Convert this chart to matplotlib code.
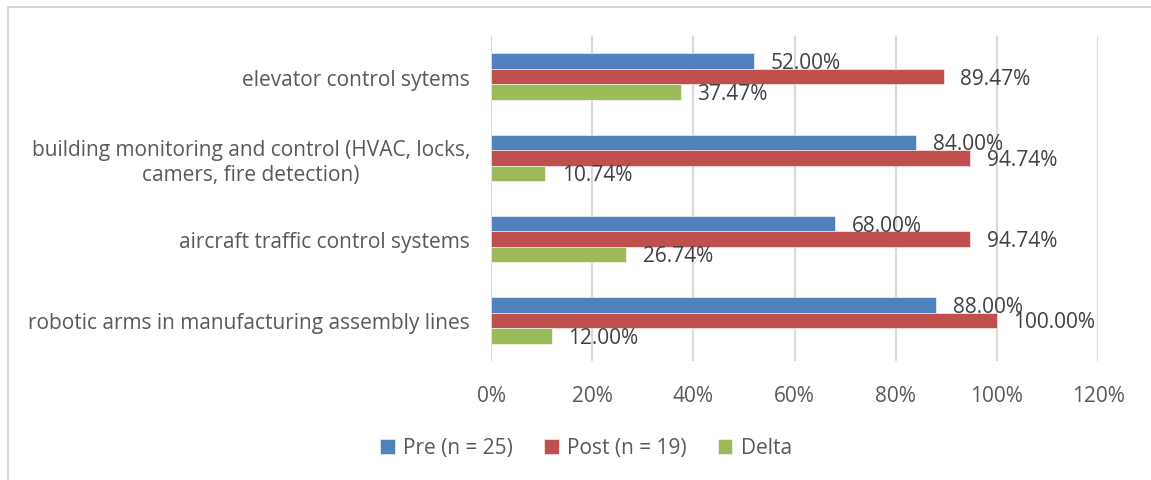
import numpy as np
import matplotlib
matplotlib.use('Agg')
import matplotlib.pyplot as plt
from matplotlib.patches import Rectangle

plt.rcParams['font.family'] = ['Open Sans', 'DejaVu Sans']

# ----------------- data -----------------
categories = ["robotic arms in manufacturing assembly lines",
              "aircraft traffic control systems",
              "building monitoring and control (HVAC, locks,\ncamers, fire detection)",
              "elevator control sytems"]
pre = [88.00, 68.00, 84.00, 52.00]
post = [100.00, 94.74, 94.74, 89.47]
delta = [12.00, 26.74, 10.74, 37.47]
series_names = ["Pre (n = 25)", "Post (n = 19)", "Delta"]
xticks = [0, 20, 40, 60, 80, 100, 120]

colors = ['#4F81BD', '#C0504D', '#9BBB59']
text_color = '#595959'
label_color = '#404040'
grid_color = '#D9D9D9'
fs = 15

fig = plt.figure(figsize=(11.51, 4.81), dpi=100)
# outer chart frame (only top and left edges fall inside the picture)
fig.patches.append(Rectangle((8 / 1151, -0.2), 1.2, 1.2 - 8 / 481, transform=fig.transFigure,
                             fill=False, edgecolor=grid_color, linewidth=1.5))
ax = fig.add_axes([491 / 1151, 1 - 362 / 481, (1098 - 491) / 1151, (362 - 37) / 481])

y = np.arange(len(categories))
h = 0.19
for i, (vals, name) in enumerate(zip([pre, post, delta], series_names)):
    pos = y + h - i * h
    bars = ax.barh(pos, vals, height=h, color=colors[i], label=name,
                   edgecolor='white', linewidth=0.4, zorder=3)
    for b, v in zip(bars, vals):
        ax.annotate("%.2f%%" % v, (v, b.get_y() + h / 2), xytext=(12, -1),
                    textcoords='offset points', va='center', ha='left',
                    fontsize=fs, color=label_color, zorder=4)

ax.set_xlim(0, 120)
ax.set_ylim(-0.5, len(categories) - 0.5)
ax.set_xticks(xticks)
ax.set_xticklabels(["%d%%" % t for t in xticks])
ax.set_yticks(y)
ax.set_yticklabels(categories, multialignment='center')
ax.tick_params(axis='both', length=0, labelsize=fs, colors=text_color)
ax.tick_params(axis='x', pad=17)
ax.tick_params(axis='y', pad=15)
ax.grid(axis='x', color=grid_color, linewidth=1.5, zorder=0)
for s in ax.spines.values():
    s.set_visible(False)

leg = fig.legend(loc='center', bbox_to_anchor=(586 / 1151, 1 - 449 / 481), ncol=3,
                 frameon=False, fontsize=fs, handlelength=0.7, handleheight=0.7,
                 handletextpad=0.4, columnspacing=1.5)
for t in leg.get_texts():
    t.set_color(text_color)

plt.savefig('out.png', dpi=100)
